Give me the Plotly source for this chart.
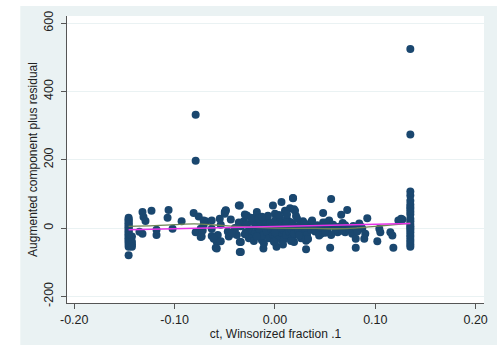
import plotly.graph_objects as go

# Augmented component-plus-residual plot for ct (winsorized at .1)

# observations piled at the lower winsorizing bound
ct_low = -0.1458
acpr_low = [30, 26, 22, 18, 14, 10, 6, 2, -2, -6, -10, -14, -18, -22, -26,
            -30, -34, -38, -42, -48, -55, -80]
ct_low2 = -0.1425
acpr_low2 = [-25, -40, -48, -55]

# observations piled at the upper winsorizing bound
ct_high = 0.1349
acpr_high = [524, 274, 107, 95, 80, 69, 62, 56, 48, 40, 27, 20, 12, 5, 0, -5,
             -12, -20, -26, -34, -41, -48, -55]

# interior observations
ct_mid = [
    -0.132, -0.123, -0.106, -0.107, -0.131, -0.129, -0.135, -0.132, -0.118,
    -0.118, -0.102, -0.093, -0.081, -0.076, -0.079, -0.074, -0.073, -0.071,
    -0.069, -0.063, -0.063, -0.059, -0.058, -0.057, -0.055, -0.054, -0.050,
    -0.049, -0.047, -0.046, -0.044, -0.040, -0.038, -0.035, -0.034, -0.034,
    -0.034, -0.031, -0.030, -0.029, -0.079, -0.079,
    -0.049, -0.050, -0.036, -0.028, -0.018, -0.018, -0.008, -0.002, 0.0065,
    0.010, 0.011, 0.018, 0.019, 0.000, 0.002, -0.0115, -0.006,
    -0.061, -0.058, -0.054, -0.035, -0.035, -0.025, -0.028, -0.013, -0.0115,
    0.0016, 0.000, 0.007, 0.013, 0.016, 0.019, -0.005, 0.005, 0.011, -0.040,
    -0.036, -0.029, -0.019, -0.016, -0.043, -0.071, -0.063, -0.072, -0.074,
    0.018, 0.020, 0.015, 0.056, 0.048, 0.066, 0.072, 0.092, 0.0675, 0.054,
    0.051, 0.036, 0.026, 0.084, 0.087, 0.090, 0.089, 0.104, 0.105, 0.102,
    0.115, 0.117, 0.118, 0.127, 0.123, 0.0805, 0.055, 0.031, 0.031, 0.046,
    0.043, 0.0625, 0.070, 0.077, 0.0805, 0.061, 0.052, 0.041, 0.033, 0.021,
    0.024, 0.017, 0.1257,
    -0.028, -0.025, -0.022, -0.020, -0.019, -0.017, -0.015, -0.014, -0.012,
    -0.010, -0.009, -0.008, -0.006, -0.005, -0.004, -0.003, -0.002, 0.000,
    0.001, 0.002, 0.003, 0.004, 0.005, 0.006, 0.007, 0.008, 0.009, 0.010,
    0.011, 0.012, 0.013, 0.014, 0.015, 0.016, 0.017, 0.018, 0.019, 0.020,
    0.022, 0.023, 0.025, 0.027, 0.028, 0.030, 0.032, 0.034, 0.036, 0.038,
    -0.026, -0.021, -0.016, -0.011, -0.007, -0.001, 0.004, 0.008, 0.012,
    0.016, 0.021, 0.026, -0.030, -0.024, -0.018, -0.013, 0.000, 0.006, 0.011,
    0.017, 0.024, 0.029, 0.033, 0.037, 0.040, 0.042, 0.044, 0.046, 0.048,
    0.050, 0.053, 0.056, 0.058, 0.060, 0.064, 0.067, 0.070, 0.074, 0.078,
    0.082, 0.086,
]
acpr_mid = [
    47, 51, 53, 30, 32, 21, -11, -17, -5,
    -20, -2, 20, 44, 34, -12, -2, -25, 10,
    20, -2, -23, -58, -40, -20, 27, 10, 47,
    52, -10, -25, 25, 0, -20, 66, 5, -41,
    -70, 20, 40, -12, 332, 197,
    51, 42, 66, 37, 47, 37, 27, 66, 76,
    51, 45, 87, 55, 42, 33, 12, 8,
    -31, -60, -39, -70, -41, -26, -14, -36, -60,
    -55, -41, -36, -26, -31, -41, -20, -9, -4, -7,
    16, 12, 16, 1, -17, 22, 22, -7, -26,
    88, 51, 58, 85, 44, 39, 53, 29, 15, 22,
    16, 17, 13, 13, -2, -17, -31, -2, -12, -39,
    -12, -22, -58, 25, 22, -58, -58, -62, -37, -17,
    -12, -12, -12, -17, -31, -3, -7, -7, -2, -3,
    -20, -25, 27,
    10, -5, 18, -15, 5, 25, -8, 12, -22,
    3, 20, -12, -30, 15, -3, 6, -18, 22,
    -8, 10, -25, 2, 30, -14, 14, -4, -33, 8,
    -20, 25, 0, -10, 18, -2, -28, 12, -16, 4,
    28, -8, 8, -14, 20, 0, -20, 10, -5, 5,
    -30, -38, 28, -45, 36, -40, 38, -48, 40,
    -38, 35, -30, -18, 30, -25, 33, -12, 0, 16,
    6, -22, 14, -32, 22, -10, 8, -22, 2, 16,
    -14, 6, -20, 10, -4, 4, -8, 8, -2, 6,
    -10, 4,
]

# linear fit and lowess smooth of the augmented component
fit_x = [-0.1458, 0.1349]
fit_y = [-5.0, 13.5]
lowess_x = [-0.1458, -0.12, -0.10, -0.08, -0.06, -0.04, -0.02, 0.00, 0.02,
            0.04, 0.06, 0.08, 0.10, 0.12, 0.1349]
lowess_y = [5, 7, 10, 12, 9, 5, 2, 0, -1, -1, -2, 0, 5, 10, 14]

x_ticks = [-0.20, -0.10, 0.00, 0.10, 0.20]
x_tick_text = ["-0.20", "-0.10", "0.00", "0.10", "0.20"]
y_ticks = [-200, 0, 200, 400, 600]
y_tick_text = ["-200", "0", "200", "400", "600"]

navy = "#1a476f"
frame_bg = "#eaf2f3"
axis_col = "#555555"
font = "Liberation Sans, Arial, sans-serif"

xs = [ct_low] * len(acpr_low) + [ct_low2] * len(acpr_low2) + ct_mid + [ct_high] * len(acpr_high)
ys = acpr_low + acpr_low2 + acpr_mid + acpr_high

fig = go.Figure()
fig.add_trace(go.Scatter(
    x=xs, y=ys, mode="markers",
    marker=dict(color=navy, size=8, line=dict(width=0)),
    showlegend=False, hoverinfo="skip",
))
fig.add_trace(go.Scatter(
    x=lowess_x, y=lowess_y, mode="lines",
    line=dict(color="#6f8456", width=1.3, shape="spline"),
    showlegend=False,
))
fig.add_trace(go.Scatter(
    x=fit_x, y=fit_y, mode="lines",
    line=dict(color="#e632e6", width=1.4),
    showlegend=False,
))

# white margin strips left of and above the tinted graph region
fig.add_shape(type="rect", xref="paper", yref="paper",
              x0=-0.2, x1=-0.112, y0=-0.2, y1=1.2,
              fillcolor="white", line=dict(width=0), layer="above")
fig.add_shape(type="rect", xref="paper", yref="paper",
              x0=-0.2, x1=1.1, y0=1.035, y1=1.2,
              fillcolor="white", line=dict(width=0), layer="above")

fig.update_layout(
    width=497, height=345,
    margin=dict(l=67, r=9, t=16, b=40),
    paper_bgcolor=frame_bg, plot_bgcolor="white",
    font=dict(family=font, size=12.5, color="#222222"),
    xaxis=dict(
        range=[-0.2072, 0.2083], tickvals=x_ticks, ticktext=x_tick_text,
        showgrid=False, zeroline=False,
        showline=True, linecolor=axis_col, linewidth=1,
        ticks="outside", ticklen=5, tickcolor=axis_col,
        title=dict(text="ct, Winsorized fraction .1", standoff=1,
                   font=dict(size=12)),
    ),
    yaxis=dict(
        range=[-219.5, 621], tickvals=y_ticks, ticktext=y_tick_text,
        tickangle=-90, ticklabelstandoff=3,
        showgrid=True, gridcolor=frame_bg, gridwidth=1, zeroline=False,
        showline=True, linecolor=axis_col, linewidth=1,
        ticks="outside", ticklen=5, tickcolor=axis_col,
        title=dict(text="Augmented component plus residual", standoff=1,
                   font=dict(size=12)),
    ),
)

fig.write_html("out.html")
